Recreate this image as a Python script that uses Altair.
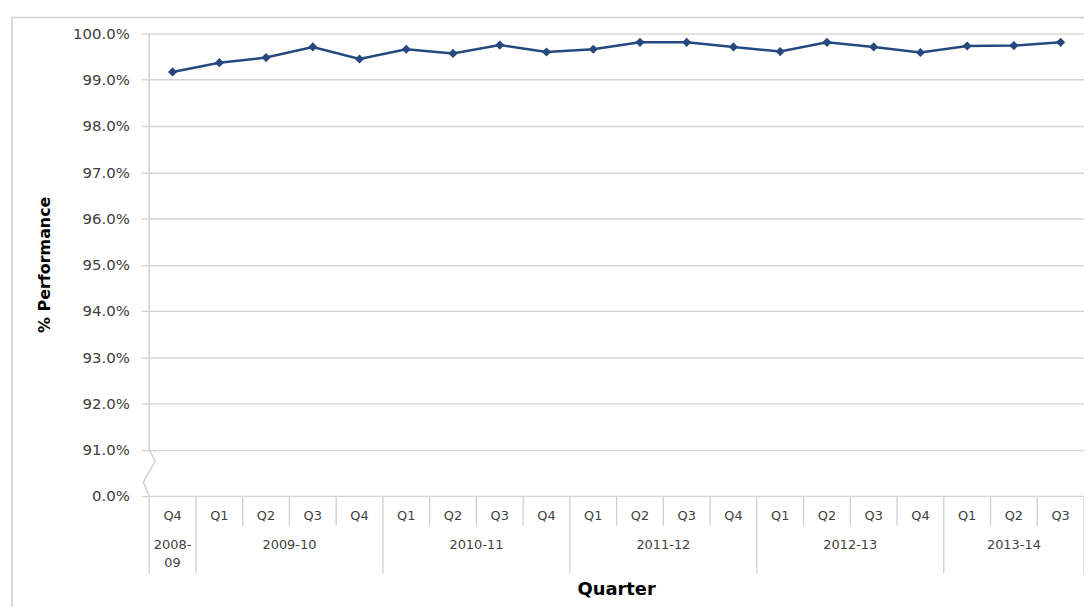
import altair as alt
import pandas as pd

quarters = ["Q4", "Q1", "Q2", "Q3", "Q4", "Q1", "Q2", "Q3", "Q4", "Q1",
            "Q2", "Q3", "Q4", "Q1", "Q2", "Q3", "Q4", "Q1", "Q2", "Q3"]
fiscal_years = ["2008-09",
                "2009-10", "2009-10", "2009-10", "2009-10",
                "2010-11", "2010-11", "2010-11", "2010-11",
                "2011-12", "2011-12", "2011-12", "2011-12",
                "2012-13", "2012-13", "2012-13", "2012-13",
                "2013-14", "2013-14", "2013-14"]
performance = [99.17, 99.37, 99.48, 99.71, 99.45, 99.66, 99.57, 99.75, 99.60, 99.66,
               99.81, 99.81, 99.71, 99.61, 99.81, 99.71, 99.59, 99.73, 99.74, 99.81]
y_ticks = [90, 91, 92, 93, 94, 95, 96, 97, 98, 99, 100]

W, H = 940, 465
GRAY = "#d0d0d0"
LABEL = "#404040"
FONT = "DejaVu Sans"

df = pd.DataFrame({"idx": list(range(len(quarters))), "quarter": quarters,
                   "year": fiscal_years, "perf": performance})

yrs = df.groupby("year", sort=False)["idx"].agg(["min", "max", "count"]).reset_index()
yrs.columns = ["year", "first", "last", "n"]
yrs["center"] = (yrs["first"] + yrs["last"]) / 2
yrs["label"] = [y.replace("-", "-\n") if c == 1 else y for y, c in zip(yrs["year"], yrs["n"])]
yrs = yrs[["center", "label"]]

year_starts = set(df.groupby("year", sort=False)["idx"].min().tolist())
n = len(quarters)
bounds = pd.DataFrame({"pos": [i - 0.5 for i in range(n + 1)],
                       "major": [1 if ((i in year_starts) or i == n) else 0 for i in range(n + 1)]})
minor_b = bounds[bounds["major"] == 0][["pos"]]
major_b = bounds[bounds["major"] == 1][["pos"]]

xscale = alt.Scale(domain=[-0.5, n - 0.5], nice=False, zero=False)
yscale = alt.Scale(domain=[90, 100], nice=False, zero=False)

# y axis line above the break (carries the y axis)
axis_df = pd.DataFrame({"a": [100.0], "b": [91.0]})
axis_line = alt.Chart(axis_df).mark_rule(color=GRAY, strokeWidth=1.5).encode(
    x=alt.value(0),
    y=alt.Y("a:Q", scale=yscale, title=None,
            axis=alt.Axis(values=y_ticks, grid=True, gridColor="#d3d3d3", gridWidth=1.3,
                          domain=False, tickColor=GRAY, tickSize=8, tickWidth=1.3,
                          labelExpr="datum.value == 90 ? '0.0%' : format(datum.value / 100, '.1%')",
                          labelFont=FONT, labelFontSize=15, labelColor=LABEL, labelPadding=12)),
    y2="b:Q")

# axis break zigzag
zig_df = pd.DataFrame({"zx": [-0.5, -0.5 + 6 / 47, -0.5 - 6 / 47, -0.5],
                       "zy": [91.0, 90.75, 90.3, 90.0], "o": [0, 1, 2, 3]})
zig = alt.Chart(zig_df).mark_line(color=GRAY, strokeWidth=1.5).encode(
    x=alt.X("zx:Q", scale=xscale, axis=None), y=alt.Y("zy:Q", scale=yscale),
    order=alt.Order("o:Q"))

base = alt.Chart(df)
line = base.mark_line(color="#24497e", strokeWidth=2.5).encode(
    x=alt.X("idx:Q", scale=xscale, axis=None), y=alt.Y("perf:Q", scale=yscale))
pts = base.mark_point(shape="diamond", filled=True, size=85, color="#24497e", opacity=1).encode(
    x=alt.X("idx:Q", scale=xscale, axis=None), y=alt.Y("perf:Q", scale=yscale))

minor = alt.Chart(minor_b).mark_rule(color=GRAY, strokeWidth=1.3).encode(
    x=alt.X("pos:Q", scale=xscale, axis=None), y=alt.value(H), y2=alt.value(H + 30))
major = alt.Chart(major_b).mark_rule(color=GRAY, strokeWidth=1.3).encode(
    x=alt.X("pos:Q", scale=xscale, axis=None), y=alt.value(H), y2=alt.value(H + 78))

q_text = base.mark_text(font=FONT, fontSize=13, color=LABEL, baseline="middle").encode(
    x=alt.X("idx:Q", scale=xscale, axis=None), y=alt.value(H + 20), text="quarter:N")
y_text = alt.Chart(yrs).mark_text(font=FONT, fontSize=13, color=LABEL, baseline="top",
                                  lineBreak="\n", lineHeight=18).encode(
    x=alt.X("center:Q", scale=xscale, axis=None), y=alt.value(H + 43), text="label:N")

titles_df = pd.DataFrame({"xt": ["Quarter"], "yt": ["% Performance"]})
x_title = alt.Chart(titles_df).mark_text(
    font=FONT, fontSize=18, fontWeight="bold", color="#000000", baseline="middle").encode(
    x=alt.value(W / 2), y=alt.value(H + 95), text="xt:N")
y_title = alt.Chart(titles_df).mark_text(
    font=FONT, fontSize=16, fontWeight="bold", color="#000000", baseline="middle",
    angle=270).encode(
    x=alt.value(-105), y=alt.value(H / 2), text="yt:N")

frame = alt.Chart(titles_df).mark_rect(fillOpacity=0, stroke=GRAY, strokeWidth=1.5).encode(
    x=alt.value(-138), x2=alt.value(W + 60), y=alt.value(-16), y2=alt.value(H + 200))

chart = alt.layer(axis_line, frame, zig, minor, major, q_text, y_text, x_title, y_title,
                  line, pts).properties(
    width=W, height=H,
    autosize=alt.AutoSizeParams(type="none"),
    padding={"left": 142, "top": 24, "right": 0, "bottom": 110},
).configure_view(strokeWidth=0)

chart.save("out.html", embed_options={"renderer": "svg", "actions": False})
